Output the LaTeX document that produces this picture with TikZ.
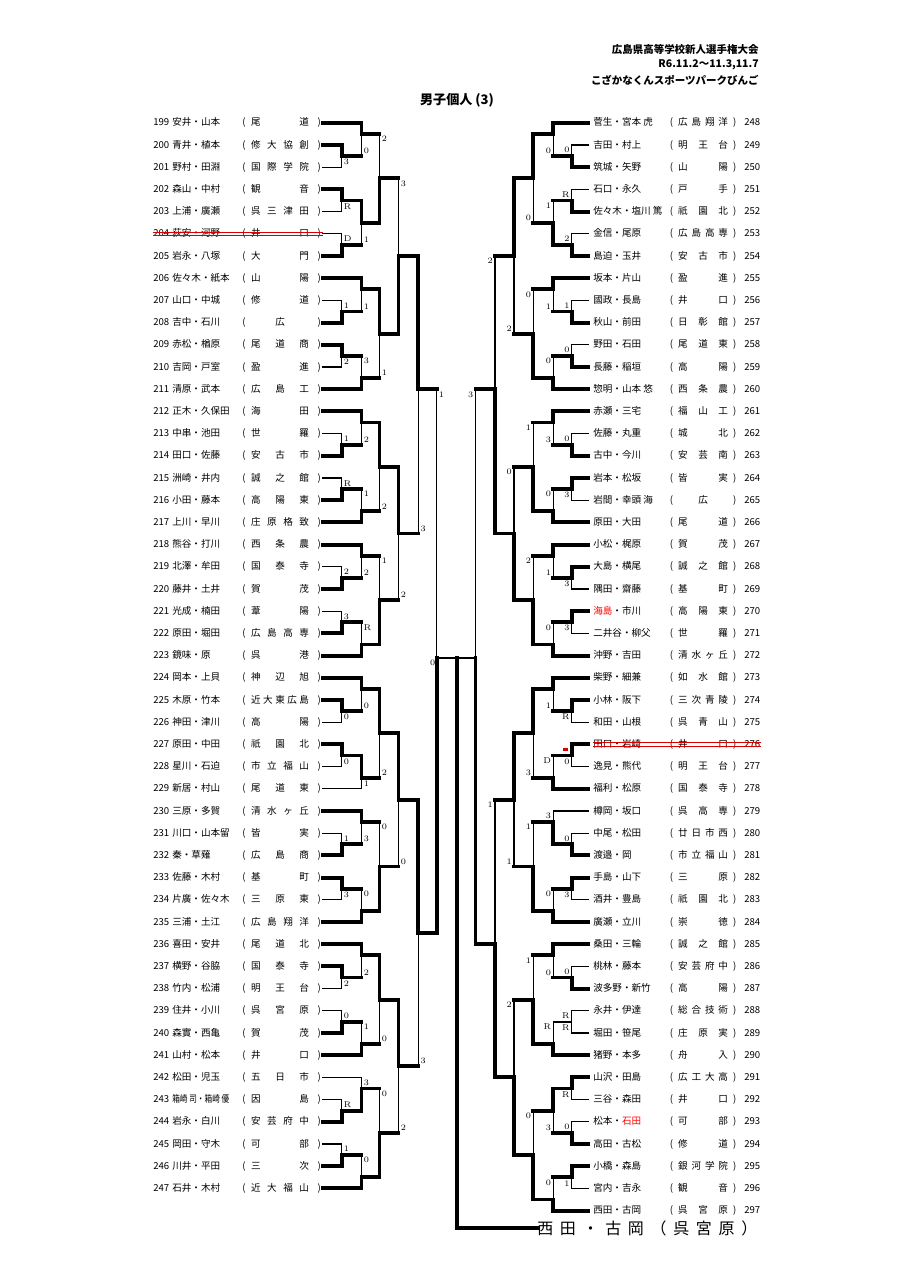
\documentclass[tikz,border=0pt]{standalone}
\usepackage{fontspec}
\usepackage{graphicx}
\newfontfamily\jp{Noto Sans CJK JP}

\newlength\pu
\setlength\pu{0.6575pt}
% spread the characters of a word over a box
\def\gobblex#1{}
\def\sprd#1{\sprdA#1\relax}
\def\sprdA#1#2{#1\ifx\relax#2\expandafter\gobblex\else\hfill\expandafter\sprdA\fi#2}
\newcommand\sqz[1]{\scalebox{0.8}[1]{#1}}
\newcommand\lentry[3]{\hbox to 172\pu{\hskip3\pu #1\hskip3\pu #2\hfil(\hskip5.5\pu\hbox to 58\pu{\hfil\expandafter\sprd\expandafter{#3}\hfil}\hskip8.5\pu)\hskip1.5\pu}}
\newcommand\rentry[3]{\hbox to 172\pu{\hskip5\pu #2\hfil(\hskip5\pu\hbox to 50\pu{\hfil\expandafter\sprd\expandafter{#3}\hfil}\hskip5\pu)\hskip8\pu\hbox to 16\pu{\hfil #1}}}

% columns
\newcommand\lcA{341.7}\newcommand\lcB{361.5}\newcommand\lcC{379.5}
\newcommand\lcD{398.5}\newcommand\lcE{418.3}\newcommand\lcF{436.7}
\newcommand\rcA{571.7}\newcommand\rcB{553.3}\newcommand\rcC{533.3}
\newcommand\rcD{514}\newcommand\rcE{495}\newcommand\rcF{475.5}

% one match: side, name, column, row, top, bottom, winner (t/b/n), score
\newcommand\mm[8]{%
  \if L#1\def\ax{west}\def\sx{1.3pt}\else\def\ax{east}\def\sx{-1.3pt}\fi
  \def\vT{lose}\def\vB{lose}%
  \if t#7\def\vT{win}\fi
  \if b#7\def\vB{win}\fi
  \ifcsname hs-#5\endcsname\edef\hT{\csname hs-#5\endcsname}\else\let\hT\vT\fi
  \ifcsname hs-#6\endcsname\edef\hB{\csname hs-#6\endcsname}\else\let\hB\vB\fi
  \if n#7\expandafter\gdef\csname hs-#2\endcsname{lose}\else\expandafter\gdef\csname hs-#2\endcsname{win}\fi
  \coordinate (#2) at (#3,122.8+22.2*#4);
  \draw[\hT] (#5) -- (#5 -| #2);
  \draw[\vT] (#5 -| #2) -- (#2);
  \draw[\hB] (#6) -- (#6 -| #2);
  \draw[\vB] (#6 -| #2) -- (#2);
  \if t#7\else\node[lab, anchor=north \ax, xshift=\sx, yshift=-1.3pt] (#2a) at (#5 -| #2) {#8};\fi
  \if b#7\else\node[lab, anchor=south \ax, xshift=\sx, yshift=1.3pt] (#2b) at (#6 -| #2) {#8};\fi
}
\newcommand\mtL{\mm L}
\newcommand\mtR{\mm R}

\begin{document}
\begin{tikzpicture}[x=0.6575pt, y=-0.6575pt, line cap=rect,
  win/.style={line width=2.6pt},
  lose/.style={line width=0.9pt},
  lab/.style={inner sep=0pt, font=\fontsize{5.5}{6}\selectfont},
  strike/.style={red!85!black, line width=0.55pt, line cap=butt}]

\fill[white] (0,0) rectangle (905,1280);
\useasboundingbox (0,0) rectangle (905,1280);

% header
\begin{scope}[every node/.style={anchor=east, inner sep=0pt, font=\jp\bfseries\fontsize{6.9}{8}\selectfont}]
  \node (h1) at (759,49) {広島県高等学校新人選手権大会};
  \node (h2) at (759,64.5) {R6.11.2～11.3,11.7};
  \node (h3) at (759,80.5) {こざかなくんスポーツパークびんご};
\end{scope}
\node[font=\jp\bfseries\fontsize{8.6}{10}\selectfont] (title) at (457,100) {男子個人 (3)};

% entries
\begin{scope}[every node/.style={anchor=west, inner sep=0pt, font=\jp\fontsize{6.3}{7}\selectfont}]
  \foreach \n/\nm/\sch [count=\rw from 0] in {
    199/安井・山本/尾道, 200/青井・植本/修大協創, 201/野村・田淵/国際学院,
    202/森山・中村/観音, 203/上浦・廣瀬/呉三津田, 204/荻安・河野/井口,
    205/岩永・八塚/大門, 206/佐々木・紙本/山陽, 207/山口・中城/修道,
    208/吉中・石川/広, 209/赤松・楢原/尾道商, 210/吉岡・戸室/盈進,
    211/清原・武本/広島工, 212/正木・久保田/海田, 213/中串・池田/世羅,
    214/田口・佐藤/安古市, 215/洲崎・井内/誠之館, 216/小田・藤本/高陽東,
    217/上川・早川/庄原格致, 218/熊谷・打川/西条農, 219/北澤・牟田/国泰寺,
    220/藤井・土井/賀茂, 221/光成・楠田/葦陽, 222/原田・堀田/広島高専,
    223/鏡味・原/呉港, 224/岡本・上貝/神辺旭, 225/木原・竹本/近大東広島,
    226/神田・津川/高陽, 227/原田・中田/祇園北, 228/星川・石迫/市立福山,
    229/新居・村山/尾道東, 230/三原・多賀/清水ヶ丘, 231/川口・山本留/皆実,
    232/秦・草薙/広島商, 233/佐藤・木村/基町, 234/片廣・佐々木/三原東,
    235/三浦・土江/広島翔洋, 236/喜田・安井/尾道北, 237/横野・谷脇/国泰寺,
    238/竹内・松浦/明王台, 239/住井・小川/呉宮原, 240/森實・西亀/賀茂,
    241/山村・松本/井口, 242/松田・児玉/五日市, 243/\sqz{箱崎 司・箱崎 優}/因島,
    244/岩永・白川/安芸府中, 245/岡田・守木/可部, 246/川井・平田/三次,
    247/石井・木村/近大福山}
    \node (e\n) at (150,122.8+22.2*\rw) {\lentry{\n}{\nm}{\sch}};
  \foreach \n/\nm/\sch [count=\rw from 0] in {
    248/菅生・宮本 虎/広島翔洋, 249/吉田・村上/明王台, 250/筑城・矢野/山陽,
    251/石口・永久/戸手, 252/佐々木・塩川 篤/祇園北, 253/金信・尾原/広島高専,
    254/島迫・玉井/安古市, 255/坂本・片山/盈進, 256/國政・長島/井口,
    257/秋山・前田/日彰館, 258/野田・石田/尾道東, 259/長藤・稲垣/高陽,
    260/惣明・山本 悠/西条農, 261/赤瀬・三宅/福山工, 262/佐藤・丸重/城北,
    263/古中・今川/安芸南, 264/岩本・松坂/皆実, 265/岩間・幸頭 海/広,
    266/原田・大田/尾道, 267/小松・梶原/賀茂, 268/大島・横尾/誠之館,
    269/隅田・齋藤/基町, 270/{\color{red}海島}・市川/高陽東, 271/二井谷・柳父/世羅,
    272/沖野・吉田/清水ヶ丘, 273/柴野・細兼/如水館, 274/小林・阪下/三次青陵,
    275/和田・山根/呉青山, 276/田口・岩崎/井口, 277/逸見・熊代/明王台,
    278/福利・松原/国泰寺, 279/樽岡・坂口/呉高専, 280/中尾・松田/廿日市西,
    281/渡邉・岡/市立福山, 282/手島・山下/三原, 283/酒井・豊島/祇園北,
    284/廣瀬・立川/崇徳, 285/桑田・三輪/誠之館, 286/桃林・藤本/安芸府中,
    287/波多野・新竹/高陽, 288/永井・伊達/総合技術, 289/堀田・笹尾/庄原実,
    290/猪野・本多/舟入, 291/山沢・田島/広工大高, 292/三谷・森田/井口,
    293/松本・{\color{red}石田}/可部, 294/高田・古松/修道, 295/小橋・森島/銀河学院,
    296/宮内・吉永/観音, 297/西田・古岡/呉宮原}
    \node (e\n) at (588,122.8+22.2*\rw) {\rentry{\n}{\nm}{\sch}};
\end{scope}

% withdrawn pairs
\draw[strike] ([xshift=2pt, yshift=1pt]e204.west) -- ([yshift=1pt]e204.east);
\draw[strike] ([xshift=2pt, yshift=-1pt]e204.west) -- ([yshift=-1pt]e204.east);
\draw[strike] ([xshift=3pt, yshift=1.2pt]e276.west) -- ([yshift=1.2pt]e276.east);
\draw[strike] ([xshift=3pt, yshift=-1.2pt]e276.west) -- ([yshift=-1.2pt]e276.east);
\fill[red!85!black] (562.5,747.5) rectangle (568,751);

% left half
\mtL{mA1}{\lcA}{1.5}{e200.east}{e201.east}{t}{3}
\mtL{mA2}{\lcB}{0.5}{e199.east}{mA1}{t}{0}
\mtL{mA3}{\lcA}{3.5}{e202.east}{e203.east}{t}{R}
\mtL{mA4}{\lcA}{5.5}{e204.east}{e205.east}{b}{D}
\mtL{mA5}{\lcB}{4.5}{mA3}{mA4}{t}{1}
\mtL{mA6}{\lcC}{2.5}{mA2}{mA5}{b}{2}
\mtL{mB1}{\lcA}{8.5}{e207.east}{e208.east}{b}{1}
\mtL{mB2}{\lcB}{7.5}{e206.east}{mB1}{t}{1}
\mtL{mB3}{\lcA}{10.5}{e209.east}{e210.east}{t}{2}
\mtL{mB4}{\lcB}{11.5}{mB3}{e211.east}{b}{3}
\mtL{mB5}{\lcC}{9.5}{mB2}{mB4}{t}{1}
\mtL{mAB}{\lcD}{6}{mA6}{mB5}{b}{3}
\mtL{mC1}{\lcA}{14.5}{e213.east}{e214.east}{b}{1}
\mtL{mC2}{\lcB}{13.5}{e212.east}{mC1}{t}{2}
\mtL{mC3}{\lcA}{16.5}{e215.east}{e216.east}{b}{R}
\mtL{mC4}{\lcB}{17.5}{mC3}{e217.east}{b}{1}
\mtL{mC5}{\lcC}{15.5}{mC2}{mC4}{t}{2}
\mtL{mD1}{\lcA}{20.5}{e219.east}{e220.east}{b}{2}
\mtL{mD2}{\lcB}{19.5}{e218.east}{mD1}{t}{2}
\mtL{mD3}{\lcA}{22.5}{e221.east}{e222.east}{b}{3}
\mtL{mD4}{\lcB}{23.5}{mD3}{e223.east}{b}{R}
\mtL{mD5}{\lcC}{21.5}{mD2}{mD4}{b}{1}
\mtL{mCD}{\lcD}{18.5}{mC5}{mD5}{t}{2}
\mtL{mABCD}{\lcE}{12}{mAB}{mCD}{t}{3}
\mtL{mE1}{\lcA}{26.5}{e225.east}{e226.east}{t}{0}
\mtL{mE2}{\lcB}{25.5}{e224.east}{mE1}{t}{0}
\mtL{mE3}{\lcA}{28.5}{e227.east}{e228.east}{t}{0}
\mtL{mE4}{\lcB}{29.5}{mE3}{e229.east}{t}{1}
\mtL{mE5}{\lcC}{27.5}{mE2}{mE4}{t}{2}
\mtL{mF1}{\lcA}{32.5}{e231.east}{e232.east}{b}{1}
\mtL{mF2}{\lcB}{31.5}{e230.east}{mF1}{t}{3}
\mtL{mF3}{\lcA}{34.5}{e233.east}{e234.east}{t}{3}
\mtL{mF4}{\lcB}{35.5}{mF3}{e235.east}{b}{0}
\mtL{mF5}{\lcC}{33.5}{mF2}{mF4}{b}{0}
\mtL{mEF}{\lcD}{30.5}{mE5}{mF5}{t}{0}
\mtL{mG1}{\lcA}{38.5}{e237.east}{e238.east}{t}{2}
\mtL{mG2}{\lcB}{37.5}{e236.east}{mG1}{t}{2}
\mtL{mG3}{\lcA}{40.5}{e239.east}{e240.east}{b}{0}
\mtL{mG4}{\lcB}{41.5}{mG3}{e241.east}{b}{1}
\mtL{mG5}{\lcC}{39.5}{mG2}{mG4}{t}{0}
\mtL{mH1}{\lcA}{44.5}{e243.east}{e244.east}{b}{R}
\mtL{mH2}{\lcB}{43.5}{e242.east}{mH1}{b}{3}
\mtL{mH3}{\lcA}{46.5}{e245.east}{e246.east}{b}{1}
\mtL{mH4}{\lcB}{47.5}{mH3}{e247.east}{b}{0}
\mtL{mH5}{\lcC}{45.5}{mH2}{mH4}{b}{0}
\mtL{mGH}{\lcD}{42.5}{mG5}{mH5}{t}{2}
\mtL{mEFGH}{\lcE}{36.5}{mEF}{mGH}{t}{3}
\mtL{mLF}{\lcF}{24.1}{mABCD}{mEFGH}{b}{1}

% right half
\mtR{mI1}{\rcA}{1.5}{e249.west}{e250.west}{b}{0}
\mtR{mI2}{\rcB}{0.5}{e248.west}{mI1}{t}{0}
\mtR{mI3}{\rcA}{3.5}{e251.west}{e252.west}{b}{R}
\mtR{mI4}{\rcA}{5.5}{e253.west}{e254.west}{b}{2}
\mtR{mI5}{\rcB}{4.5}{mI3}{mI4}{b}{1}
\mtR{mI6}{\rcC}{2.5}{mI2}{mI5}{t}{0}
\mtR{mJ1}{\rcA}{8.5}{e256.west}{e257.west}{b}{1}
\mtR{mJ2}{\rcB}{7.5}{e255.west}{mJ1}{t}{1}
\mtR{mJ3}{\rcA}{10.5}{e258.west}{e259.west}{b}{0}
\mtR{mJ4}{\rcB}{11.5}{mJ3}{e260.west}{b}{0}
\mtR{mJ5}{\rcC}{9.5}{mJ2}{mJ4}{b}{0}
\mtR{mIJ}{\rcD}{6}{mI6}{mJ5}{t}{2}
\mtR{mK1}{\rcA}{14.5}{e262.west}{e263.west}{b}{0}
\mtR{mK2}{\rcB}{13.5}{e261.west}{mK1}{t}{3}
\mtR{mK3}{\rcA}{16.5}{e264.west}{e265.west}{t}{3}
\mtR{mK4}{\rcB}{17.5}{mK3}{e266.west}{b}{0}
\mtR{mK5}{\rcC}{15.5}{mK2}{mK4}{b}{1}
\mtR{mL1}{\rcA}{20.5}{e268.west}{e269.west}{t}{3}
\mtR{mL2}{\rcB}{19.5}{e267.west}{mL1}{t}{1}
\mtR{mL3}{\rcA}{22.5}{e270.west}{e271.west}{t}{3}
\mtR{mL4}{\rcB}{23.5}{mL3}{e272.west}{b}{0}
\mtR{mL5}{\rcC}{21.5}{mL2}{mL4}{b}{2}
\mtR{mKL}{\rcD}{18.5}{mK5}{mL5}{b}{0}
\mtR{mIJKL}{\rcE}{12}{mIJ}{mKL}{b}{2}
\mtR{mM1}{\rcA}{26.5}{e274.west}{e275.west}{t}{R}
\mtR{mM2}{\rcB}{25.5}{e273.west}{mM1}{t}{1}
\mtR{mM3}{\rcA}{28.5}{e276.west}{e277.west}{t}{0}
\mtR{mM4}{\rcB}{29.5}{mM3}{e278.west}{b}{D}
\mtR{mM5}{\rcC}{27.5}{mM2}{mM4}{t}{3}
\mtR{mN1}{\rcA}{32.5}{e280.west}{e281.west}{b}{0}
\mtR{mN2}{\rcB}{31.5}{e279.west}{mN1}{b}{3}
\mtR{mN3}{\rcA}{34.5}{e282.west}{e283.west}{t}{3}
\mtR{mN4}{\rcB}{35.5}{mN3}{e284.west}{b}{0}
\mtR{mN5}{\rcC}{33.5}{mN2}{mN4}{b}{1}
\mtR{mMN}{\rcD}{30.5}{mM5}{mN5}{t}{1}
\mtR{mO1}{\rcA}{38.5}{e286.west}{e287.west}{b}{0}
\mtR{mO2}{\rcB}{37.5}{e285.west}{mO1}{t}{0}
\mtR{mO3}{\rcA}{40.5}{e288.west}{e289.west}{n}{R}
\mtR{mO4}{\rcB}{41.5}{mO3}{e290.west}{b}{R}
\mtR{mO5}{\rcC}{39.5}{mO2}{mO4}{b}{1}
\mtR{mP1}{\rcA}{43.5}{e291.west}{e292.west}{t}{R}
\mtR{mP2}{\rcA}{45.5}{e293.west}{e294.west}{b}{0}
\mtR{mP3}{\rcB}{44.5}{mP1}{mP2}{t}{3}
\mtR{mP4}{\rcA}{47.5}{e295.west}{e296.west}{t}{1}
\mtR{mP5}{\rcB}{48.5}{mP4}{e297.west}{b}{0}
\mtR{mP6}{\rcC}{46.5}{mP3}{mP5}{b}{0}
\mtR{mOP}{\rcD}{43}{mO5}{mP6}{b}{2}
\mtR{mMNOP}{\rcE}{37}{mMN}{mOP}{b}{1}
\mtR{mRF}{\rcF}{24.1}{mIJKL}{mMNOP}{b}{3}

% final
\coordinate (fin) at (456.7,122.8+22.2*24.1);
\node[anchor=west, inner sep=0pt, font=\jp\fontsize{10.5}{12}\selectfont] (champ) at (537,1228)
  {\hbox to 220\pu{\sprd{西田・古岡（呉宮原）}}};
\draw[lose] (mLF) -- (fin);
\draw[lose] (mRF) -- (fin);
\node[lab, anchor=north east, xshift=-0.8pt, yshift=-1pt] (lfin) at (mLF) {0};
\draw[win] (fin) |- (champ.west);
\end{tikzpicture}
\end{document}
